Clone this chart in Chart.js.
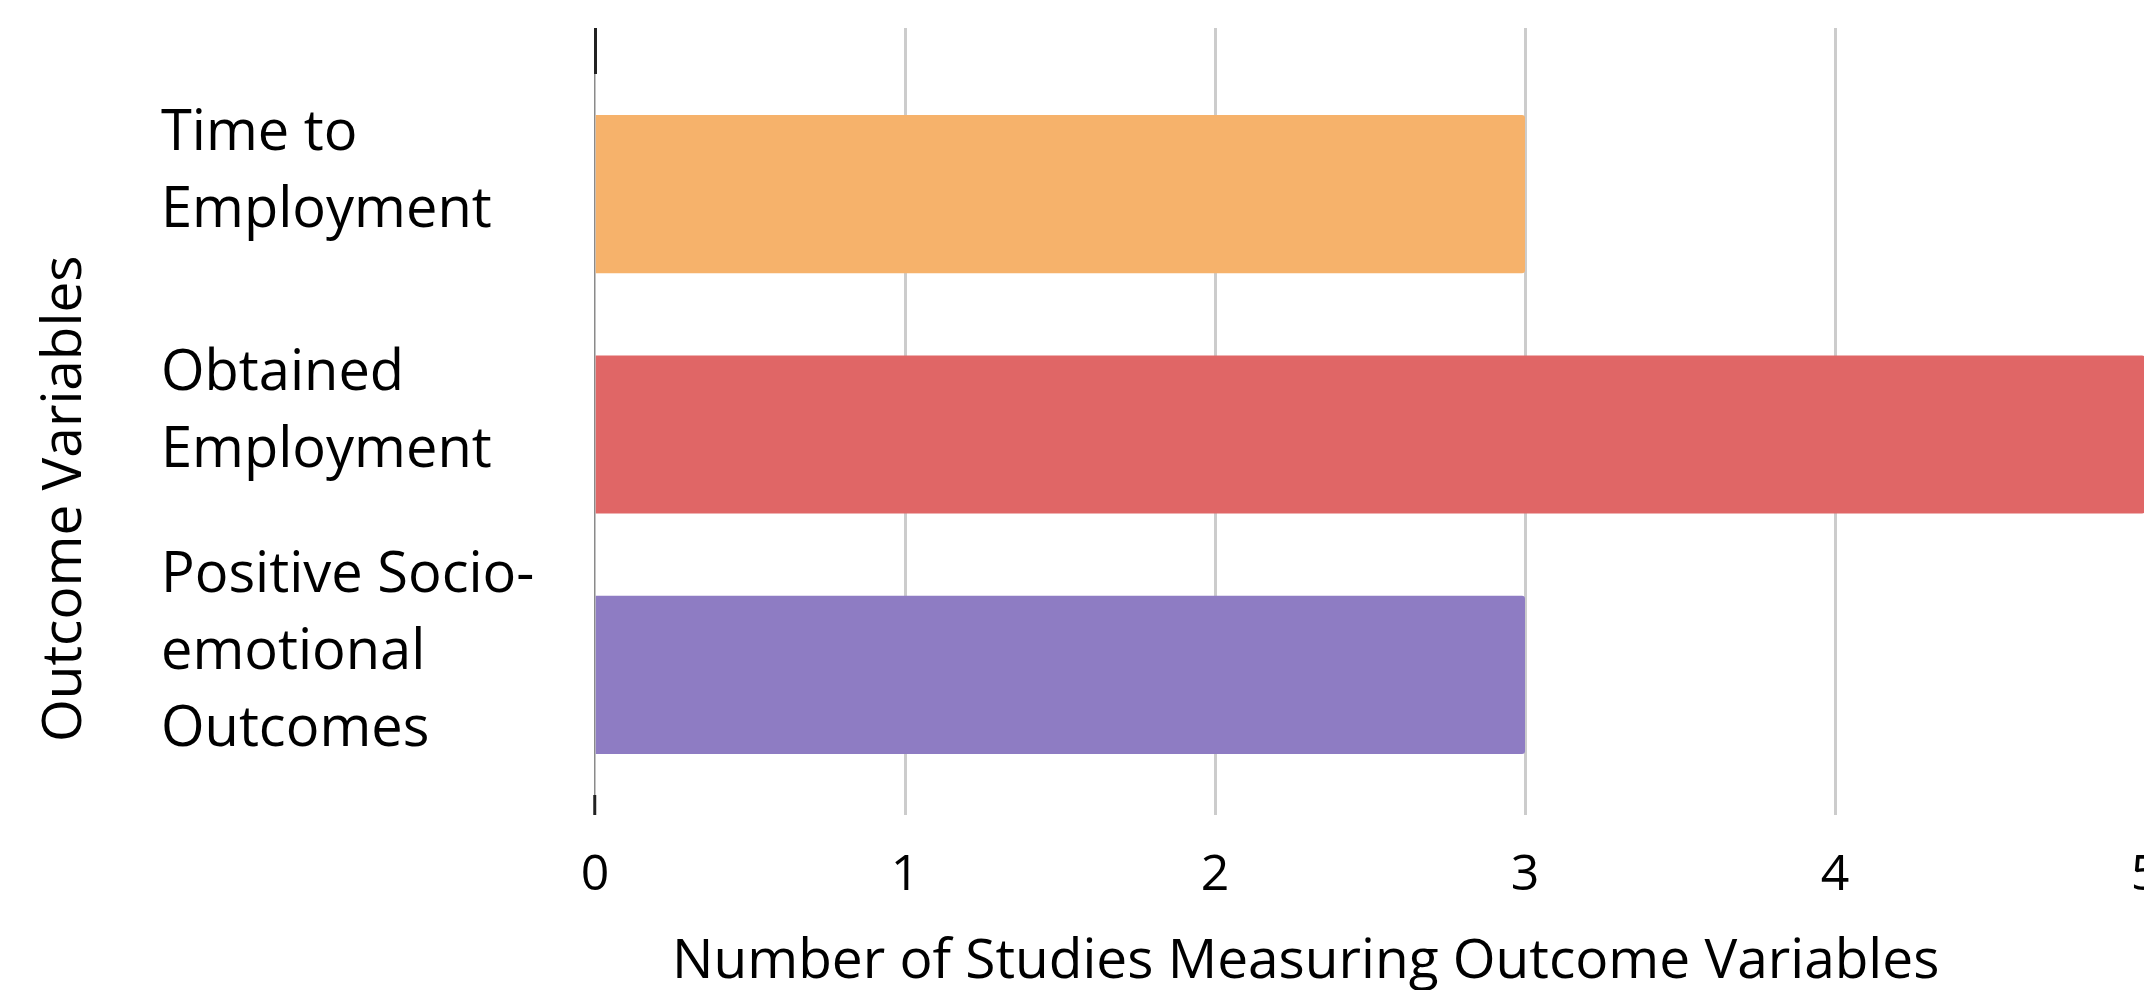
<!DOCTYPE html>
<html>
<head>
<meta charset="utf-8">
<title>Outcome Variables</title>
<script src="https://cdn.jsdelivr.net/npm/chart.js"></script>
<style>
  html, body { margin: 0; padding: 0; background: #ffffff; overflow: hidden; }
  #wrap { position: relative; width: 2144px; height: 990px; overflow: hidden; }
  #myChart { position: absolute; left: 0; top: 0; }
</style>
</head>
<body>
<div id="wrap">
  <canvas id="myChart" width="2160" height="990"></canvas>
</div>
<script>
// values
const outcomeLabels = [
    ['Time to', 'Employment'],
    ['Obtained', 'Employment'],
    ['Positive Socio-', 'emotional', 'Outcomes']
];
const studyCounts = [3, 5, 3];
const barColors = ['#f6b26b', '#e06666', '#8e7cc3'];
const xTickMin = 0;
const xTickMax = 5;
const xTitle = 'Number of Studies Measuring Outcome Variables';
const yTitle = 'Outcome Variables';

const FONT = "'Open Sans', 'Liberation Sans', sans-serif";
// titles sit a bit off the plot centre in the original, pad them at the end
const TITLE_PAD = '         ';

function noPadding(scale){
    scale.paddingTop = 0;
    scale.paddingBottom = 0;
    scale.paddingLeft = 0;
}

function ShowChart(){
    const data = {
        labels: outcomeLabels,
        datasets: [
            {
                label: 'Number of Studies',
                data: studyCounts,
                backgroundColor: barColors,
                borderWidth: 0,
                borderRadius: 3,
                categoryPercentage: 1,
                barPercentage: 0.658,
            }
        ]
    };

    const gridColor = function(ctx){
        return ctx.tick && ctx.tick.value === 0 ? '#8a8a8a' : '#cccccc';
    };
    const gridWidth = function(ctx){
        return ctx.tick && ctx.tick.value === 0 ? 1.5 : 3;
    };
    const tickColor = function(ctx){
        return ctx.tick && ctx.tick.value === 0 ? '#222222' : '#cccccc';
    };

    const config = {
        type: 'bar',
        data: data,
        options: {
            indexAxis: 'y',
            responsive: false,
            animation: false,
            devicePixelRatio: 1,
            layout: {
                padding: { left: 0, top: 28, right: 0, bottom: 0 }
            },
            plugins: {
                legend: { display: false },
                tooltip: { enabled: false }
            },
            scales: {
                x: {
                    position: 'bottom',
                    min: xTickMin,
                    max: xTickMax,
                    ticks: {
                        stepSize: 1,
                        padding: 31,
                        color: '#000000',
                        font: { family: FONT, size: 50 }
                    },
                    grid: {
                        color: gridColor,
                        lineWidth: gridWidth,
                        tickColor: tickColor,
                        tickWidth: 3,
                        tickLength: 20
                    },
                    border: { display: false },
                    title: {
                        display: true,
                        text: xTitle + TITLE_PAD,
                        color: '#000000',
                        padding: 0,
                        font: { family: FONT, size: 55, lineHeight: 1 }
                    },
                    afterFit: function(scale){
                        scale.height = 195;
                        scale.paddingLeft = 0;
                        scale.paddingRight = 15;
                    }
                },
                xTop: {
                    axis: 'x',
                    position: 'top',
                    min: xTickMin,
                    max: xTickMax,
                    display: true,
                    ticks: { display: false, stepSize: 1 },
                    grid: {
                        drawOnChartArea: false,
                        color: gridColor,
                        tickColor: tickColor,
                        tickWidth: 3,
                        tickLength: 46
                    },
                    border: { display: false },
                    afterFit: function(scale){
                        scale.height = 46;
                        scale.paddingLeft = 0;
                        scale.paddingRight = 15;
                    }
                },
                y: {
                    position: 'left',
                    weight: 0,
                    ticks: {
                        crossAlign: 'far',
                        padding: 0,
                        labelOffset: -22,
                        color: '#000000',
                        font: { family: FONT, size: 56, lineHeight: 1.375 }
                    },
                    grid: { display: false, drawTicks: false },
                    border: { display: false },
                    afterFit: function(scale){
                        scale.width = 434;
                        noPadding(scale);
                    }
                },
                yTitleAxis: {
                    type: 'category',
                    axis: 'y',
                    position: 'left',
                    weight: 1,
                    ticks: { display: false },
                    grid: { display: false, drawTicks: false },
                    border: { display: false },
                    title: {
                        display: true,
                        text: yTitle + TITLE_PAD,
                        color: '#000000',
                        padding: { top: 32, bottom: 0 },
                        font: { family: FONT, size: 55, lineHeight: 1.2 }
                    },
                    afterFit: function(scale){
                        scale.width = 161;
                        noPadding(scale);
                    }
                }
            }
        }
    };

    const myChart = new Chart(
        document.getElementById('myChart'),
        config
    );
}

ShowChart();
</script>
</body>
</html>
